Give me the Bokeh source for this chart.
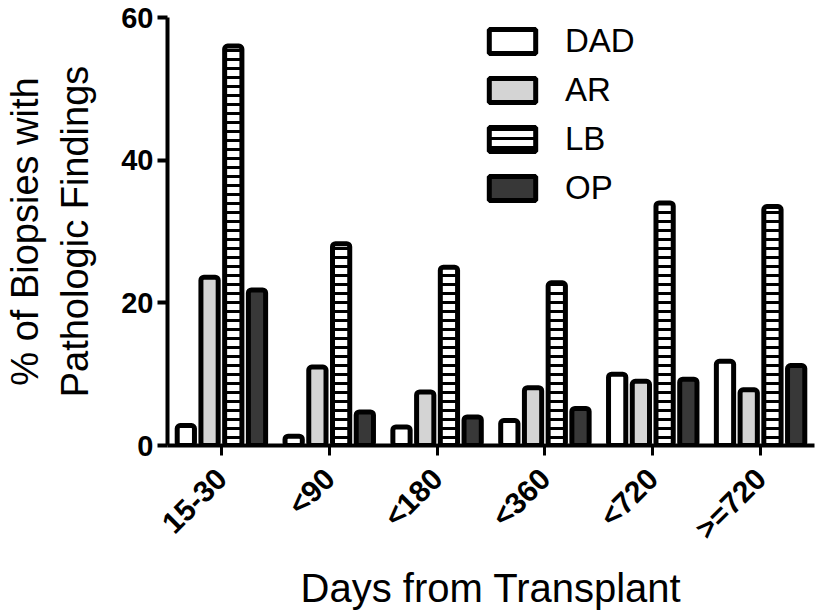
from bokeh.plotting import figure
from bokeh.models import FactorRange, Range1d, Legend, LegendItem, FixedTicker, ColumnDataSource
from bokeh.transform import dodge
from bokeh.embed import file_html
from bokeh.resources import INLINE
from math import pi

categories = ["15-30", "<90", "<180", "<360", "<720", ">=720"]
dad = [2.8, 1.3, 2.6, 3.5, 10.0, 11.8]
ar = [23.6, 11.0, 7.5, 8.1, 9.0, 7.8]
lb = [56.0, 28.3, 25.0, 22.8, 34.0, 33.5]
op = [21.8, 4.7, 4.0, 5.2, 9.3, 11.2]
y_ticks = [0, 20, 40, 60]

src = ColumnDataSource(dict(cat=categories, DAD=dad, AR=ar, LB=lb, OP=op))

p = figure(x_range=FactorRange(factors=categories), y_range=Range1d(0, 60),
           frame_width=647, frame_height=428,
           min_border_left=159, min_border_top=17, min_border_right=2, min_border_bottom=156,
           output_backend="svg", toolbar_location=None)

common = dict(width=0.16, line_color="black", line_width=5, source=src, border_radius=3)
r_dad = p.vbar(x=dodge("cat", -0.33, range=p.x_range), top="DAD", bottom=0,
               fill_color="white", **common)
r_ar = p.vbar(x=dodge("cat", -0.11, range=p.x_range), top="AR", bottom=0,
              fill_color="#d4d4d4", **common)
r_lb = p.vbar(x=dodge("cat", 0.11, range=p.x_range), top="LB", bottom=0,
              fill_color="white", hatch_pattern="horizontal_line", hatch_color="black",
              hatch_weight=3, hatch_scale=9, **common)
r_op = p.vbar(x=dodge("cat", 0.33, range=p.x_range), top="OP", bottom=0,
              fill_color="#383838", **common)

legend = Legend(items=[LegendItem(label="DAD", renderers=[r_dad]),
                       LegendItem(label="AR", renderers=[r_ar]),
                       LegendItem(label="LB", renderers=[r_lb]),
                       LegendItem(label="OP", renderers=[r_op])],
                location=(316, 238), padding=0, margin=0, spacing=11,
                glyph_width=58, glyph_height=30, label_standoff=24,
                border_line_alpha=0, background_fill_alpha=0,
                label_text_font="Liberation Sans", label_text_font_size="33px",
                label_text_color="black")
p.add_layout(legend)

p.grid.visible = False
p.outline_line_alpha = 0
p.background_fill_color = "white"

p.yaxis.ticker = FixedTicker(ticks=y_ticks)
p.yaxis.minor_tick_line_alpha = 0
p.yaxis.major_tick_in = 0
p.yaxis.major_tick_out = 10
p.yaxis.axis_line_width = 4
p.yaxis.major_tick_line_width = 4
p.yaxis.major_label_text_font = "Liberation Sans"
p.yaxis.major_label_text_font_style = "bold"
p.yaxis.major_label_text_font_size = "29px"
p.yaxis.major_label_text_color = "black"
p.yaxis.major_label_standoff = 4
p.yaxis.axis_label = "% of Biopsies with\nPathologic Findings"
p.yaxis.axis_label_text_font = "Liberation Sans"
p.yaxis.axis_label_text_font_style = "normal"
p.yaxis.axis_label_text_font_size = "38px"
p.yaxis.axis_label_text_color = "black"
p.yaxis.axis_label_standoff = 22

p.xaxis.major_tick_in = 0
p.xaxis.major_tick_out = 10
p.xaxis.axis_line_width = 4
p.xaxis.major_tick_line_width = 3
p.xaxis.minor_tick_line_alpha = 0
p.xaxis.major_label_orientation = pi / 4
p.xaxis.major_label_text_font = "Liberation Sans"
p.xaxis.major_label_text_font_style = "bold"
p.xaxis.major_label_text_font_size = "30px"
p.xaxis.major_label_text_color = "black"
p.xaxis.major_label_standoff = 18
p.xaxis.axis_label = "Days from Transplant"
p.xaxis.axis_label_text_font = "Liberation Sans"
p.xaxis.axis_label_text_font_style = "normal"
p.xaxis.axis_label_text_font_size = "40px"
p.xaxis.axis_label_text_color = "black"
p.xaxis.axis_label_standoff = 6

open("out.html", "w").write(file_html(p, INLINE))
